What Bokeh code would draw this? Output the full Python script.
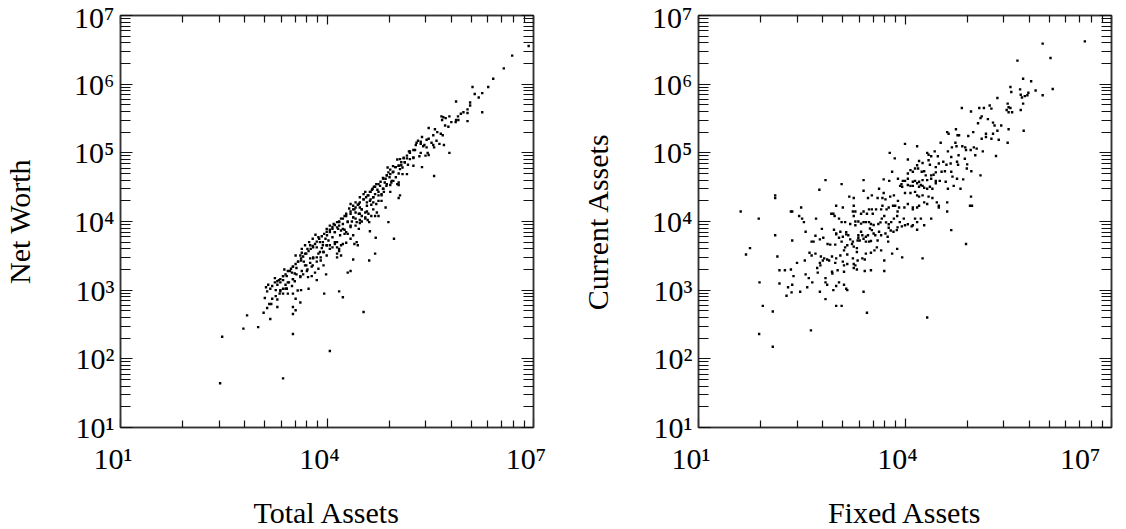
import math
from bokeh.plotting import figure
from bokeh.layouts import row
from bokeh.models import Range1d, LogAxis, FixedTicker, CustomJSTickFormatter
from bokeh.embed import file_html
from bokeh.resources import INLINE

# ---------------- data ----------------
# Left panel: Total Assets (x) vs Net Worth (y)
total_assets = [
    8.5e6, 4.9e6, 3.7e6, 2.6e6, 2.2e6, 1.3e6, 1.4e6, 1.8e6, 1.6e6, 1.2e6,
    7.5e5, 1.1e6, 1.2e6, 1.8e6, 1.1e6, 9.6e5, 8.8e5, 8.0e5, 7.5e5, 8.1e5,
    7.4e5, 1.1e6, 6.0e5, 5.3e5, 4.9e5, 4.6e5, 4.7e5, 6.4e5, 5.2e5, 5.8e5,
    3.0e5, 3.7e5, 4.0e5, 4.5e5, 4.8e5, 3.5e5, 3.0e5, 2.8e5, 2.4e5, 2.1e5,
    2.0e5, 2.3e5, 3.9e5, 4.3e5, 5.0e5, 3.5e5, 3.3e5, 3.6e5, 2.6e5, 2.8e5,
    1.95e5, 1.8e5, 1.6e5, 1.55e5, 2.3e5, 2.9e5, 3.0e5, 2.7e5, 2.2e5, 1.8e5,
    1.6e5, 1.45e5, 1.3e5, 1.15e5, 1.05e5, 1.35e5, 1.2e5, 1.25e5, 1.1e5, 1.0e5,
    9.1e4, 8.3e4, 7.8e4, 7.6e4, 9.0e4, 7.4e4, 8.1e4, 7.1e4, 6.5e4, 6.9e4,
    8.6e4, 9.2e4, 1.1e5, 6.0e5, 2.4e5, 3.6e5, 1.05e5, 1.15e5, 1.1e5, 8.3e4,
    7.3e4, 6.5e4, 5.9e4, 5.2e4, 4.8e4, 4.5e4, 4.2e4, 5.4e4, 5.6e4, 6.2e4,
    6.7e4, 5.0e4, 4.7e4, 4.3e4, 3.9e4, 3.6e4, 3.4e4, 3.0e4, 3.4e4, 3.8e4,
    4.4e4, 4.7e4, 5.6e4, 7.1e4, 5.3e4, 5.6e4, 5.0e4, 4.4e4, 4.0e4, 3.8e4,
    3.2e4, 3.0e4, 2.9e4, 2.6e4, 2.4e4, 2.2e4, 2.1e4, 2.5e4, 2.6e4, 3.0e4,
    3.2e4, 4.1e4, 7.8e4, 5.1e4, 4.2e4, 9.4e4, 5.0e4, 4.1e4, 3.4e4, 2.4e4,
    2.2e4, 2.0e4, 1.7e4, 1.5e4, 1.1e4, 2.3e3, 3.2e3, 2.8e2, 3.0e2, 6.1e2,
    1.0e3, 6.9e2, 1.2e3, 1.5e3, 1.55e3, 1.45e3, 1.25e3, 1.35e3, 1.9e3, 1.9e3,
    2.05e3, 1.8e3, 1.3e3, 1.4e3, 2.1e3, 2.3e3, 2.6e3, 2.7e3, 3.2e3, 3.5e3,
    3.75e3, 4.2e3, 4.1e3, 3.2e3, 3.2e3, 3.5e3, 5.4e3, 9.1e3, 1.75e3, 2.0e3,
    2.3e3, 2.6e3, 2.4e3, 2.9e3, 3.1e3, 3.4e3, 3.6e3, 3.2e3, 3.8e3, 3.5e3,
    4.2e3, 4.3e3, 4.8e3, 5.2e3, 5.7e3, 5.0e3, 5.1e3, 5.3e3, 6.0e3, 6.7e3,
    7.5e3, 7.1e3, 8.9e3, 9.7e3, 6.3e3, 6.2e3, 5.7e3, 7.1e3, 7.9e3, 8.9e3,
    8.1e3, 9.9e3, 1.1e4, 1.2e4, 1.3e4, 1.4e4, 1.5e4, 1.6e4, 1.7e4, 1.9e4,
    1.4e4, 1.4e4, 1.5e4, 1.6e4, 2.0e4, 2.2e4, 2.4e4, 2.8e4, 2.7e4, 2.5e4,
    6.3e3, 7.1e3, 7.9e3, 8.7e3, 9.5e3, 1.0e4, 1.1e4, 1.2e4, 1.3e4, 1.4e4,
    1.5e4, 1.6e4, 1.7e4, 1.8e4, 2.0e4, 2.2e4, 2.3e4, 2.4e4, 2.6e4, 2.9e4,
    3.0e4, 3.2e4, 3.6e4, 3.9e4, 6.2e3, 6.8e3, 9.9e3, 1.1e4, 1.25e4, 1.5e4,
    1.7e4, 1.9e4, 2.2e4, 2.6e4, 9.9e3, 8.7e3, 7.5e3, 5.5e3, 4.8e3, 4.3e3,
    4.1e3, 4.6e3, 4.1e3, 3.2e3, 2.7e3, 2.5e3, 2.1e3, 1.9e3, 2.3e3,
    2.3e5, 2.5e5, 1.9e5, 1.6e5, 1.45e5, 1.3e5, 1.2e5, 1.1e5, 9.8e4, 9.2e4,
    8.3e4, 7.4e4, 6.6e4, 6.0e4, 5.6e4, 5.0e4, 4.6e4, 4.3e4, 4.0e4, 3.7e4,
    3.4e4, 3.0e4, 2.8e4, 2.6e4, 2.4e4, 2.2e4, 1.9e4, 1.8e4, 1.6e4, 1.5e4,
    1.4e4, 1.3e4, 1.2e4, 1.1e4, 9.9e3, 9.1e3, 8.4e3, 7.7e3, 7.1e3, 6.7e3,
    6.2e3, 5.8e3, 5.4e3, 5.0e3, 4.5e3, 4.2e3, 3.8e3, 3.5e3, 3.2e3, 3.0e3,
    2.7e3, 2.5e3, 2.3e3, 2.1e3, 1.9e3, 1.75e3, 1.6e3, 1.5e3, 1.35e3,
    1.8e5, 1.35e5, 1.5e5, 1.15e5, 1.25e5, 1.0e5, 8.7e4, 1.1e5, 7.4e4, 6.6e4,
    5.6e4, 6.2e4, 4.7e4, 4.2e4, 5.2e4, 3.8e4, 3.2e4, 3.6e4, 2.9e4, 2.4e4,
    3.0e4, 2.0e4, 1.7e4, 2.2e4, 1.8e4, 1.45e4, 1.3e4, 1.55e4, 1.2e4, 1.05e4,
    1.3e4, 9.9e3, 8.4e3, 8.9e3, 7.5e3, 6.3e3, 7.1e3, 5.7e3, 4.8e3, 5.2e3,
    4.3e3, 3.6e3, 4.1e3, 3.2e3, 2.8e3, 3.1e3, 2.5e3, 2.1e3, 2.3e3, 1.8e3,
    1.6e3, 1.4e4, 1.1e4, 8.1e3, 6.0e3, 4.5e3, 3.4e3, 2.6e3, 1.9e4, 2.7e4,
    3.6e4, 4.7e4, 6.2e4, 8.3e4, 1.1e5, 1.45e5, 1.8e5,
]
net_worth = [
    3.6e6, 2.6e6, 1.7e6, 1.2e6, 9.1e5, 9.1e5, 7.2e5, 7.4e5, 6.4e5, 5.4e5,
    5.6e5, 4.3e5, 4.9e5, 3.9e5, 3.8e5, 3.9e5, 3.7e5, 3.4e5, 3.0e5, 3.0e5,
    2.8e5, 2.9e5, 3.4e5, 3.2e5, 3.3e5, 3.4e5, 3.0e5, 2.8e5, 2.5e5, 2.4e5,
    2.3e5, 2.2e5, 2.0e5, 1.9e5, 1.8e5, 1.8e5, 1.6e5, 1.55e5, 1.7e5, 1.5e5,
    1.4e5, 1.45e5, 1.5e5, 1.35e5, 1.3e5, 1.3e5, 1.4e5, 1.2e5, 1.3e5, 1.2e5,
    1.3e5, 1.1e5, 1.05e5, 1.05e5, 1.0e5, 1.0e5, 9.3e4, 9.1e4, 8.9e4, 8.4e4,
    8.1e4, 8.3e4, 8.5e4, 8.1e4, 8.0e4, 7.3e4, 6.6e4, 6.1e4, 6.5e4, 6.2e4,
    6.4e4, 5.7e4, 5.2e4, 6.1e4, 5.2e4, 4.7e4, 4.4e4, 4.2e4, 4.3e4, 3.7e4,
    3.7e4, 3.9e4, 5.0e4, 1.0e5, 6.2e4, 4.6e4, 3.5e4, 2.4e4, 2.2e4, 3.4e4,
    3.3e4, 3.0e4, 3.3e4, 3.5e4, 3.2e4, 2.9e4, 2.7e4, 2.9e4, 2.4e4, 2.5e4,
    2.7e4, 2.5e4, 2.25e4, 2.1e4, 2.4e4, 2.7e4, 2.5e4, 2.25e4, 2.1e4, 1.9e4,
    1.75e4, 1.9e4, 2.0e4, 1.6e4, 1.35e4, 1.2e4, 1.2e4, 1.2e4, 1.3e4, 1.4e4,
    1.5e4, 1.6e4, 1.8e4, 1.9e4, 1.7e4, 1.8e4, 1.55e4, 1.5e4, 1.35e4, 1.3e4,
    1.2e4, 9.8e3, 9.8e3, 5.8e3, 7.2e3, 5.6e3, 3.4e3, 2.7e3, 4.8e2, 2.8e3,
    1.9e3, 1.8e3, 7.9e2, 9.6e2, 1.3e2, 52, 2.3e2, 44, 2.1e2, 2.75e2,
    2.9e2, 4.3e2, 4.7e2, 3.8e2, 6.3e2, 6.3e2, 7.7e2, 5.5e2, 5.7e2, 7.3e2,
    8.9e2, 1.0e3, 1.1e3, 1.2e3, 9.6e2, 1.05e3, 1.05e3, 8.9e2, 8.9e2, 7.5e2,
    9.9e2, 1.0e3, 6.6e2, 5.7e2, 4.5e2, 5.1e2, 1.05e3, 8.9e2, 1.5e3, 1.4e3,
    1.6e3, 1.6e3, 2.0e3, 1.9e3, 1.8e3, 1.75e3, 2.1e3, 2.2e3, 2.6e3, 3.2e3,
    2.7e3, 3.5e3, 3.4e3, 4.0e3, 4.5e3, 2.3e3, 1.9e3, 1.55e3, 1.6e3, 1.8e3,
    2.05e3, 1.4e3, 2.3e3, 1.7e3, 2.9e3, 2.3e3, 2.9e3, 3.0e3, 3.6e3, 3.6e3,
    2.7e3, 3.2e3, 4.5e3, 4.2e3, 5.0e3, 4.2e3, 4.0e3, 4.5e3, 4.7e3, 4.9e3,
    3.4e3, 3.0e3, 3.7e3, 3.2e3, 6.6e3, 5.6e3, 6.3e3, 4.5e3, 5.0e3, 4.7e3,
    4.2e3, 4.2e3, 5.0e3, 4.5e3, 5.6e3, 6.3e3, 7.0e3, 7.8e3, 7.0e3, 8.2e3,
    8.7e3, 7.4e3, 7.8e3, 6.6e3, 9.8e3, 8.7e3, 1.0e4, 1.15e4, 8.7e3, 7.8e3,
    9.5e3, 1.0e4, 1.1e4, 1.05e4, 5.6e3, 6.4e3, 7.8e3, 8.7e3, 9.2e3, 9.8e3,
    1.1e4, 1.2e4, 1.3e4, 1.1e4, 4.5e3, 5.0e3, 5.9e3, 5.0e3, 4.5e3, 4.0e3,
    3.2e3, 2.6e3, 1.6e3, 1.45e3, 1.3e3, 1.2e3, 1.3e3, 1.2e3, 1.4e3,
    1.35e5, 1.25e5, 1.1e5, 1.0e5, 9.1e4, 8.3e4, 7.3e4, 6.5e4, 6.2e4, 5.3e4,
    4.9e4, 4.7e4, 4.2e4, 3.8e4, 3.5e4, 3.2e4, 3.0e4, 2.7e4, 2.4e4, 2.25e4,
    2.1e4, 1.9e4, 1.75e4, 1.6e4, 1.5e4, 1.4e4, 1.3e4, 1.2e4, 1.1e4, 1.0e4,
    9.8e3, 8.9e3, 8.3e3, 7.6e3, 7.1e3, 6.6e3, 6.1e3, 5.6e3, 5.1e3, 4.7e3,
    4.4e3, 4.0e3, 3.7e3, 3.4e3, 3.1e3, 2.9e3, 2.6e3, 2.4e3, 2.2e3, 2.05e3,
    1.9e3, 1.7e3, 1.6e3, 1.45e3, 1.35e3, 1.3e3, 1.15e3, 1.05e3, 9.6e2,
    8.6e4, 7.3e4, 6.7e4, 5.8e4, 4.9e4, 4.4e4, 3.9e4, 3.4e4, 3.5e4, 3.0e4,
    2.7e4, 2.4e4, 2.25e4, 2.0e4, 1.8e4, 1.7e4, 1.5e4, 1.35e4, 1.3e4, 1.15e4,
    1.05e4, 1.0e4, 9.2e3, 8.3e3, 7.6e3, 7.8e3, 7.0e3, 6.3e3, 5.9e3, 5.3e3,
    4.7e3, 4.5e3, 4.1e3, 3.6e3, 3.4e3, 3.0e3, 2.6e3, 2.5e3, 2.3e3, 2.0e3,
    1.9e3, 1.7e3, 1.55e3, 1.45e3, 1.3e3, 1.15e3, 1.05e3, 1.0e3, 8.9e2, 8.2e2,
    7.5e2, 5.0e3, 4.0e3, 3.0e3, 2.2e3, 1.7e3, 1.35e3, 1.05e3, 7.0e3, 9.8e3,
    1.15e4, 1.5e4, 2.0e4, 2.7e4, 3.7e4, 4.9e4, 6.5e4,
]

# Right panel: Fixed Assets (x) vs Current Assets (y)
fixed_assets = [
    4.1e6, 1.0e6, 1.3e6, 4.3e5, 5.2e5, 6.8e5, 3.4e5, 4.7e5, 3.5e5, 1.4e6,
    7.9e5, 6.2e5, 4.8e5, 5.5e5, 1.0e6, 5.0e5, 6.0e5, 2.2e5, 5.2e5, 3.1e5,
    3.2e5, 3.4e5, 3.0e5, 3.2e5, 3.6e5, 4.8e5, 6.7e4, 9.1e4, 1.2e5, 1.4e5,
    1.7e5, 1.8e5, 1.3e5, 1.25e5, 1.15e5, 1.6e5, 1.9e5, 2.0e5, 2.5e5, 2.2e5,
    3.2e5, 5.3e5, 4.1e4, 4.3e4, 5.5e4, 5.8e4, 6.1e4, 8.3e4, 9.8e4, 1.5e5,
    1.5e5, 1.9e5, 1.8e5, 2.3e5, 3.1e5, 1.3e5, 5.4e4, 5.6e4, 4.8e4, 6.8e4,
    7.5e4, 1.0e5, 1.1e5, 9.0e4, 1.35e5, 2.1e5, 7.7e4, 1.0e4, 1.5e4, 3.3e4,
    2.7e4, 2.1e4, 2.2e4, 2.4e4, 3.0e4, 4.2e4, 4.7e4, 6.0e4, 7.4e4, 1.05e5,
    6.0e3, 7.1e3, 1.1e4, 1.6e4, 1.8e4, 2.2e4, 2.3e4, 2.8e4, 3.1e4, 3.6e4,
    4.0e4, 4.6e4, 5.7e4, 5.9e4, 8.0e4, 7.9e4, 9.2e4, 1.25e5, 1.5e4, 1.55e4,
    1.4e4, 1.3e4, 1.1e4, 1.2e4, 1.75e4, 1.9e4, 2.0e4, 2.6e4, 2.8e4, 3.4e4,
    3.8e4, 4.7e4, 4.9e4, 5.7e4, 7.0e4, 3.9e4, 3.2e4, 2.8e4, 2.4e4, 2.4e4,
    2.1e4, 1.8e4, 1.6e4, 1.5e4, 1.4e4, 1.3e4, 1.1e4, 1.0e4, 6.5e3, 4.9e3,
    5.9e3, 7.9e3, 9.3e3, 8.9e3, 8.5e3, 9.1e3, 1.1e4, 1.2e4, 1.3e4, 1.6e4,
    1.7e4, 1.8e4, 1.9e4, 2.1e4, 2.3e4, 2.5e4, 2.8e4, 4.2e4, 5.1e4, 6.4e4,
    9.1e4, 9.4e4, 8.8e4, 4.7e4, 7.7e4, 2.1e4, 1.8e4, 7.0e2, 1.2e3, 2.5e3,
    5.7e2, 2.5e3, 4.2e3, 4.9e3, 3.3e3, 1.8e3, 1.55e3, 2.9e3, 4.0e3, 4.7e3,
    5.2e3, 6.1e3, 6.9e3, 7.9e3, 1.0e4, 1.2e4, 1.4e4, 1.5e4, 1.6e4, 1.8e4,
    2.2e4, 2.5e4, 2.9e4, 4.1e4, 3.1e4, 4.1e4, 3.1e4, 2.1e4, 1.9e4, 1.6e4,
    1.5e4, 1.3e4, 1.3e4, 1.1e4, 9.8e3, 8.2e3, 7.8e3, 7.2e3, 6.7e3, 5.8e3,
    5.4e3, 4.7e3, 4.5e3, 3.8e3, 3.3e3, 3.4e3, 3.0e3, 2.8e3, 2.5e3, 2.3e3,
    1.9e3, 1.8e3, 1.75e3, 1.8e3, 1.25e3, 1.0e3, 9.1e2, 8.5e2, 9.5e2, 1.1e3,
    1.2e3, 1.35e3, 1.6e3, 1.9e3, 1.9e3, 2.1e3, 2.3e3, 2.5e3, 2.7e3, 3.0e3,
    3.2e3, 3.5e3, 4.1e3, 4.4e3, 4.6e3, 5.0e3, 5.3e3, 5.8e3, 6.3e3, 6.9e3,
    7.7e3, 8.4e3, 9.6e3, 1.0e4, 1.1e4, 1.3e4, 1.4e4, 1.5e4, 1.7e4, 1.9e4,
    2.4e4, 1.5e4, 1.25e4, 9.0e3, 7.8e3, 7.6e3, 6.8e3, 6.2e3, 5.8e3, 5.2e3,
    4.5e3, 4.2e3, 3.5e3, 3.3e3, 3.1e3, 2.9e3, 2.7e3, 2.4e3, 2.3e3, 2.1e3,
    2.1e3, 2.05e3, 2.2e3, 2.5e3, 2.7e3, 3.0e3, 3.2e3, 3.7e3, 4.0e3, 5.6e3,
    5.7e3, 3.9e3, 3.6e3, 4.5e3, 3.2e3, 2.7e3, 2.6e3, 2.4e3, 2.05e3, 1.9e3,
    1.8e3, 2.0e3, 1.8e3, 1.45e3, 1.35e3, 1.3e3, 1.45e3, 1.7e3, 1.8e3, 2.0e3,
    2.0e3, 1.6e3, 1.75e3, 1.5e3, 1.4e3, 1.4e3, 1.15e3, 1.0e3, 9.3e2, 1.0e3,
    1.1e3, 1.25e3, 1.2e3, 9.7e2, 8.2e2, 7.5e2, 6.5e2, 5.8e2, 5.0e2, 4.7e2,
    6.2e2, 5.1e2, 3.4e2, 3.2e2, 2.9e2, 3.1e2, 2.3e2, 2.2e2, 1.3e2, 1.3e2,
    1.3e2, 2.3e2, 3.6e2, 4.4e2, 4.1e2, 4.4e2, 5.0e2, 6.0e2, 6.4e2, 5.8e2,
    5.9e2, 6.7e2, 7.4e2, 7.9e2, 8.7e2, 9.7e2, 1.0e3, 1.15e3, 1.25e3, 1.3e3,
    1.45e3, 1.75e3, 1.3e3, 1.05e3, 8.8e2, 7.0e2, 7.0e2, 7.4e2, 9.1e2, 1.0e3,
    1.1e3, 1.3e3, 1.4e3, 1.45e3, 8.7e2, 5.4e2, 5.3e2, 4.0e2, 3.6e2, 3.8e2,
    3.0e2, 2.25e2, 2.3e2, 2.0e2, 1.9e2, 2.4e2, 2.2e2, 2.7e2, 3.5e2, 1.8e2,
    1.5e2, 1.4e2, 1.5e2, 5.8e2, 7.0e2, 1.0e3, 1.2e3, 2.5e3, 2.8e3, 77,
    86, 1.2e2, 76, 1.2e2, 4.3e2, 75, 41, 56, 49, 5.0e3,
    2.6e3, 3.2e3, 5.0e3, 6.5e3, 7.7e3, 9.1e3, 4.5e2,
]
current_assets = [
    4.2e6, 3.9e6, 2.4e6, 2.2e6, 1.2e6, 1.1e6, 9.1e5, 8.4e5, 7.7e5, 8.5e5,
    8.1e5, 7.5e5, 7.0e5, 6.7e5, 6.9e5, 6.4e5, 6.9e5, 6.3e5, 5.2e5, 5.2e5,
    4.6e5, 4.5e5, 4.2e5, 3.9e5, 3.9e5, 4.2e5, 4.5e5, 4.0e5, 4.5e5, 4.5e5,
    4.9e5, 4.4e5, 3.4e5, 3.2e5, 2.7e5, 3.1e5, 2.75e5, 2.5e5, 2.5e5, 2.1e5,
    2.2e5, 2.1e5, 2.0e5, 1.9e5, 2.2e5, 1.8e5, 1.8e5, 1.76e5, 2.0e5, 1.9e5,
    1.7e5, 1.9e5, 1.6e5, 1.55e5, 1.4e5, 1.6e5, 1.4e5, 1.25e5, 1.2e5, 1.25e5,
    1.2e5, 1.2e5, 1.15e5, 1.1e5, 1.05e5, 9.0e4, 1.1e5, 1.35e5, 1.25e5, 1.4e5,
    1.05e5, 1.0e5, 9.4e4, 8.9e4, 8.9e4, 1.05e5, 8.7e4, 9.2e4, 8.2e4, 9.2e4,
    1.0e5, 8.3e4, 8.0e4, 7.6e4, 7.1e4, 7.8e4, 6.7e4, 6.2e4, 7.0e4, 7.4e4,
    6.7e4, 7.0e4, 7.4e4, 6.7e4, 6.8e4, 5.9e4, 5.4e4, 4.7e4, 6.6e4, 5.9e4,
    5.9e4, 5.3e4, 5.0e4, 5.6e4, 5.3e4, 5.4e4, 4.7e4, 4.8e4, 5.2e4, 5.3e4,
    5.4e4, 5.3e4, 4.5e4, 4.2e4, 4.1e4, 3.8e4, 3.9e4, 3.9e4, 4.7e4, 4.2e4,
    4.0e4, 4.0e4, 3.8e4, 3.6e4, 3.9e4, 3.8e4, 4.2e4, 3.9e4, 5.3e4, 4.1e4,
    3.9e4, 4.2e4, 3.9e4, 3.5e4, 3.3e4, 3.2e4, 3.4e4, 3.3e4, 3.3e4, 3.2e4,
    3.4e4, 3.3e4, 3.1e4, 3.0e4, 3.2e4, 3.0e4, 3.6e4, 3.0e4, 3.3e4, 3.0e4,
    2.3e4, 1.7e4, 1.7e4, 7.5e3, 4.7e3, 4.0e2, 2.9e3, 4.0e4, 3.5e4, 4.0e4,
    2.9e4, 2.8e4, 3.0e4, 2.6e4, 2.4e4, 2.2e4, 2.3e4, 2.2e4, 2.2e4, 2.2e4,
    2.1e4, 2.3e4, 2.4e4, 2.0e4, 2.6e4, 2.6e4, 2.7e4, 2.4e4, 2.3e4, 2.4e4,
    2.3e4, 2.2e4, 1.9e4, 1.9e4, 1.6e4, 1.4e4, 1.7e4, 1.8e4, 1.9e4, 1.7e4,
    1.6e4, 1.5e4, 1.6e4, 1.8e4, 1.6e4, 1.6e4, 1.4e4, 1.7e4, 1.7e4, 1.6e4,
    1.5e4, 1.7e4, 1.5e4, 1.5e4, 1.5e4, 1.3e4, 1.5e4, 1.3e4, 1.4e4, 1.3e4,
    1.4e4, 1.7e4, 1.4e4, 1.2e4, 1.6e4, 1.7e4, 1.3e4, 1.3e4, 1.2e4, 1.1e4,
    9.8e3, 9.8e3, 9.2e3, 8.8e3, 1.0e4, 1.0e4, 9.3e3, 9.8e3, 9.8e3, 9.8e3,
    9.2e3, 8.9e3, 9.2e3, 9.7e3, 1.1e4, 1.2e4, 9.7e3, 9.1e3, 9.8e3, 1.1e4,
    1.2e4, 9.8e3, 1.1e4, 8.8e3, 9.1e3, 8.8e3, 1.1e4, 9.8e3, 1.1e4, 8.8e3,
    1.1e4, 7.6e3, 8.5e3, 8.5e3, 8.2e3, 7.5e3, 7.1e3, 7.4e3, 8.1e3, 6.7e3,
    6.3e3, 7.1e3, 6.7e3, 7.5e3, 7.9e3, 6.3e3, 6.0e3, 6.3e3, 7.1e3, 6.3e3,
    5.8e3, 5.3e3, 5.3e3, 5.6e3, 5.1e3, 5.1e3, 5.2e3, 6.3e3, 5.3e3, 6.0e3,
    5.1e3, 4.2e3, 3.8e3, 3.8e3, 3.5e3, 3.4e3, 2.8e3, 2.9e3, 2.7e3, 2.3e3,
    2.1e3, 2.0e3, 2.4e3, 4.5e3, 4.2e3, 3.8e3, 3.3e3, 4.7e3, 4.3e3, 4.1e3,
    3.6e3, 5.5e3, 5.1e3, 6.3e3, 6.5e3, 7.0e3, 7.1e3, 6.7e3, 7.6e3, 6.5e3,
    5.8e3, 6.0e3, 5.1e3, 4.6e3, 4.6e3, 4.7e3, 5.8e3, 5.5e3, 6.2e3, 5.1e3,
    7.8e3, 1.1e4, 9.8e3, 1.1e4, 1.2e4, 1.6e4, 1.4e4, 1.4e4, 2.4e4, 2.2e4,
    6.3e3, 5.3e3, 7.1e3, 5.1e3, 3.5e3, 3.2e3, 3.4e3, 3.1e3, 2.7e3, 2.5e3,
    2.3e3, 2.9e3, 2.8e3, 2.7e3, 3.1e3, 2.5e3, 2.9e3, 3.2e3, 2.6e3, 2.3e3,
    2.4e3, 2.9e3, 1.85e3, 1.95e3, 1.75e3, 1.5e3, 1.3e3, 1.2e3, 1.0e3, 1.15e3,
    1.3e3, 1.2e3, 1.05e3, 1.0e3, 1.85e3, 1.8e3, 2.1e3, 1.5e3, 1.7e3, 1.1e3,
    9.5e2, 9.3e2, 1.2e3, 1.1e3, 8.3e2, 1.6e3, 2.0e3, 2.5e3, 2.7e3, 1.95e3,
    1.95e3, 3.1e3, 1.25e3, 9.5e2, 7.4e2, 5.9e2, 5.9e2, 9.5e2, 4.7e2, 1.3e3,
    5.9e2, 4.9e2, 2.3e2, 1.5e2, 2.6e2, 1.1e4, 1.4e4, 4.1e3, 3.3e3, 1.9e3,
    1.9e3, 1.95e3, 2.7e3, 3.4e3, 4.0e3, 3.0e3, 1.3e3,
]

# axis texts and ticks
x_major = [1e1, 1e4, 1e7]
y_major = [1e1, 1e2, 1e3, 1e4, 1e5, 1e6, 1e7]
x_minor = [10 ** (e + 3 * math.log10(k)) for e in (1, 4) for k in range(2, 10)]
y_minor = [k * 10 ** e for e in range(1, 7) for k in range(2, 10)]

FONT = "Liberation Serif"
SUP_JS = """
const sup = {'0':'\\u2070','1':'\\u00b9','2':'\\u00b2','3':'\\u00b3','4':'\\u2074',
             '5':'\\u2075','6':'\\u2076','7':'\\u2077','8':'\\u2078','9':'\\u2079'};
const e = Math.round(Math.log10(tick));
return '10' + String(e).split('').map(c => sup[c]).join('') + TAIL;
"""
BLANK_JS = "return '';"


def style_axis(ax, ticker, labelled, tick_len, minor_len, tail=""):
    ax.ticker = ticker
    ax.axis_line_color = "#333333"
    ax.axis_line_width = 1.5
    ax.major_tick_line_color = "#111111"
    ax.minor_tick_line_color = "#111111"
    ax.major_tick_line_width = 1.2
    ax.minor_tick_line_width = 1.2
    ax.major_tick_in = tick_len
    ax.major_tick_out = 0
    ax.minor_tick_in = minor_len
    ax.minor_tick_out = 0
    if labelled:
        ax.formatter = CustomJSTickFormatter(code=SUP_JS.replace("TAIL", repr(tail)))
        ax.major_label_text_font = FONT
        ax.major_label_text_font_size = "30px"
        ax.major_label_text_color = "black"
        ax.axis_label_text_font = FONT
        ax.axis_label_text_font_size = "30px"
        ax.axis_label_text_font_style = "normal"
        ax.axis_label_text_color = "black"
    else:
        ax.formatter = CustomJSTickFormatter(code=BLANK_JS)
        ax.major_label_standoff = 0
        ax.major_label_text_font_size = "10px"


def make_panel(xs, ys, xlabel, ylabel, border_left, border_right):
    p = figure(x_axis_type="log", y_axis_type="log",
               x_range=Range1d(10, 1e7), y_range=Range1d(10, 1e7),
               frame_width=413, frame_height=412,
               min_border_left=border_left, min_border_right=border_right,
               min_border_top=15, min_border_bottom=94,
               output_backend="svg", toolbar_location=None)
    p.grid.visible = False
    p.outline_line_color = "#333333"
    p.outline_line_width = 1.5
    p.background_fill_color = "white"
    p.border_fill_color = "white"

    xt = FixedTicker(ticks=x_major, minor_ticks=x_minor)
    yt = FixedTicker(ticks=y_major, minor_ticks=y_minor)

    bx = p.xaxis[0]
    style_axis(bx, xt, True, 9, 7, tail="\u2002")
    bx.axis_label = xlabel
    bx.major_label_standoff = 14
    bx.axis_label_standoff = 18

    ly = p.yaxis[0]
    style_axis(ly, yt, True, 12, 10)
    ly.axis_label = ylabel
    ly.major_label_standoff = 6
    ly.axis_label_standoff = 35

    top = LogAxis()
    style_axis(top, FixedTicker(ticks=x_major, minor_ticks=x_minor), False, 9, 7)
    p.add_layout(top, "above")
    right = LogAxis()
    style_axis(right, FixedTicker(ticks=y_major, minor_ticks=y_minor), False, 12, 10)
    p.add_layout(right, "right")

    p.scatter(xs, ys, marker="square", size=2.4,
              fill_color="black", line_color=None)
    return p


p1 = make_panel(total_assets, net_worth, "Total Assets", "Net Worth", 116, 40)
p2 = make_panel(fixed_assets, current_assets, "Fixed Assets", "Current Assets", 125, 4)
layout = row(p1, p2)

html = file_html(layout, INLINE)
html = html.replace("</head>",
                    "<style>html, body { overflow: hidden; } body { margin-bottom: 0; }</style></head>", 1)
open("out.html", "w").write(html)
